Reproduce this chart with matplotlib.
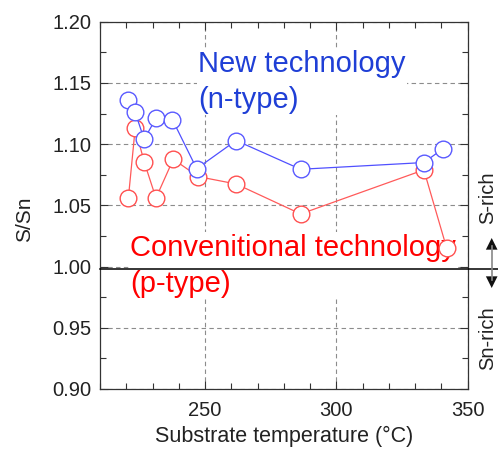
"""S/Sn ratio versus substrate temperature for new and conventional technology."""

import matplotlib

matplotlib.use("Agg")
import matplotlib.pyplot as plt
from matplotlib.patches import FancyArrowPatch
from matplotlib.ticker import MultipleLocator, FormatStrFormatter

plt.rcParams["font.family"] = ["Liberation Sans", "DejaVu Sans"]

# Data
temp_new = [220.8, 223.4, 226.8, 231.3, 237.6, 246.8, 261.8, 286.4, 333.3, 340.4]
ratio_new = [1.136, 1.126, 1.104, 1.121, 1.120, 1.080, 1.103, 1.0795, 1.085, 1.096]

temp_conv = [220.8, 223.4, 226.8, 231.3, 237.9, 247.4, 261.8, 286.4, 333.3, 342.0]
ratio_conv = [1.056, 1.113, 1.0857, 1.056, 1.0877, 1.0735, 1.0675, 1.043, 1.079, 1.015]

stoich = 0.998
y_ticks = [0.90, 0.95, 1.00, 1.05, 1.10, 1.15, 1.20]

TEXT = "#222222"
W, H = 498, 451


def fx(px):
    return px / W


def fy(py):
    return 1 - py / H


fig = plt.figure(figsize=(4.98, 4.51), dpi=100)
ax = fig.add_axes([0.2008, 0.1375, 0.7384, 0.8142])

# Grid (dashed) under everything
ax.set_axisbelow(True)
ax.grid(True, which="major", linestyle=(0, (4, 3)), color="#8c8c8c", linewidth=0.8)

# Labels with white boxes hide the grid behind them, as in the original
# (va="baseline" on multi-line text anchors the last line)
ax.text(fx(198), fy(108), "New technology\n(n-type)", transform=fig.transFigure,
        color="#1f3fd6", fontsize=21, va="baseline", ha="left", linespacing=1.38,
        bbox=dict(facecolor="white", edgecolor="none", pad=1), zorder=2.5)
ax.text(fx(130), fy(292), "Convenitional technology\n(p-type)", transform=fig.transFigure,
        color="#ff0000", fontsize=21, va="baseline", ha="left", linespacing=1.38,
        bbox=dict(facecolor="white", edgecolor="none", pad=1), zorder=2.5)

ax.plot(temp_conv, ratio_conv, color="#ff5a5a", lw=0.9, marker="o", ms=12,
        mfc="white", mec="#ff5050", mew=1.0, zorder=3)
ax.plot(temp_new, ratio_new, color="#5050ff", lw=0.9, marker="o", ms=12,
        mfc="white", mec="#5a5aff", mew=1.0, zorder=4)

# Stoichiometric line, runs past the right spine to the figure edge
ax.plot([0, 1.09], [stoich, stoich], transform=ax.get_yaxis_transform(),
        color="black", lw=1.1, clip_on=False, zorder=5)

ax.set_xlim(210, 350)
ax.set_ylim(0.90, 1.20)
ax.xaxis.set_major_locator(MultipleLocator(50))
ax.xaxis.set_minor_locator(MultipleLocator(10))
ax.set_yticks(y_ticks)
ax.yaxis.set_minor_locator(MultipleLocator(0.025))
ax.yaxis.set_major_formatter(FormatStrFormatter("%.2f"))

ax.tick_params(which="both", direction="in", top=True, right=True, colors="#333333",
               labelcolor=TEXT, labelsize=14.5)
ax.tick_params(which="major", length=6, width=0.8)
ax.tick_params(which="minor", length=4.5, width=0.8)
ax.tick_params(axis="x", which="major", pad=9)
ax.tick_params(axis="y", which="major", pad=6)
for spine in ax.spines.values():
    spine.set_color("#333333")
    spine.set_linewidth(0.9)

ax.set_xlabel("Substrate temperature (°C)", fontsize=15.5, color=TEXT, labelpad=4)
ax.set_ylabel("S/Sn", fontsize=15, color=TEXT)
ax.yaxis.set_label_coords(-0.18, 0.463)

# Side notes: S-rich above, Sn-rich below the line
fig.text(fx(487.5), fy(198), "S-rich", rotation=90, ha="center", va="center",
         fontsize=14.5, color=TEXT)
fig.text(fx(487.5), fy(338), "Sn-rich", rotation=90, ha="center", va="center",
         fontsize=14.5, color=TEXT)
fig.add_artist(plt.Line2D([fx(491.7)] * 2, [fy(246), fy(280)], transform=fig.transFigure,
                          color="#888888", lw=1.2))
for tip in (238, 288):
    fig.add_artist(FancyArrowPatch(
        (fx(491.7), fy(263)), (fx(491.7), fy(tip)),
        transform=fig.transFigure, arrowstyle="-|>,head_length=0.6,head_width=0.3",
        mutation_scale=14, color="#111111", lw=0, shrinkA=0, shrinkB=0))

fig.savefig("out.png", dpi=100)
